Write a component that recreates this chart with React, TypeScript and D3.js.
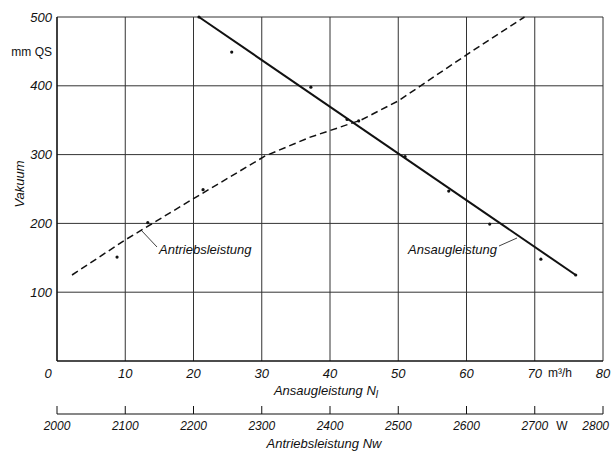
import React from 'react';
import * as d3 from 'd3';

// Ansaugleistung (m3/h) – upper x axis ticks
const flowTicks = [0, 10, 20, 30, 40, 50, 60, 70, 80];
// Antriebsleistung (W) – lower x axis ticks
const powerTicks = [2000, 2100, 2200, 2300, 2400, 2500, 2600, 2700, 2800];
// Vakuum (mm QS)
const vacTicks = [100, 200, 300, 400, 500];

// solid curve: Ansaugleistung
const ansaugX = [20.8, 76];
const ansaugY = [500, 125];

// dashed curve: Antriebsleistung
const antriebX = [2.2, 10, 20, 30.5, 37, 44.5, 50, 60, 68.5];
const antriebY = [125, 176, 236, 298, 325, 350, 378, 445, 500];

// measured points
const dotX = [8.8, 13.3, 21.4, 25.6, 20.8, 37.2, 42.5, 44.2, 51, 57.4, 63.4, 70.9, 76];
const dotY = [151, 201, 249, 449, 500, 398, 351, 349, 297, 247, 199, 148, 125];

const W = 611;
const H = 453;
const left = 57;
const right = 603;
const top = 17;
const bottom = 361;
const axis2Y = 414;

const font = '"Liberation Sans", Arial, sans-serif';

export default function App() {
  const x = d3.scaleLinear().domain([0, 80]).range([left, right]);
  const x2 = d3.scaleLinear().domain([2000, 2800]).range([left, right]);
  const y = d3.scaleLinear().domain([0, 500]).range([bottom, top]);

  const line = d3.line<[number, number]>().x(d => x(d[0])).y(d => y(d[1]));

  const ansaug = ansaugX.map((v, i) => [v, ansaugY[i]] as [number, number]);
  const antrieb = antriebX.map((v, i) => [v, antriebY[i]] as [number, number]);

  const txt = { fontFamily: font, fontStyle: 'italic', fill: '#111' } as const;
  const up = { fontFamily: font, fill: '#111' } as const;

  return (
    <svg width={W} height={H} style={{ position: 'absolute', left: 0, top: 0, background: '#fff' }}>
      {/* grid */}
      <g stroke="#333" strokeWidth={1}>
        {flowTicks.slice(1).map(t => (
          <line key={'v' + t} x1={x(t)} x2={x(t)} y1={top} y2={bottom} />
        ))}
        {vacTicks.map(t => (
          <line key={'h' + t} x1={left} x2={right} y1={y(t)} y2={y(t)} />
        ))}
      </g>
      {/* axes */}
      <line x1={left} x2={left} y1={top} y2={bottom} stroke="#111" strokeWidth={1.6} />
      <line x1={left} x2={right} y1={bottom} y2={bottom} stroke="#111" strokeWidth={1.4} />

      {/* y labels */}
      {vacTicks.map(t => (
        <text key={'yl' + t} x={left - 5} y={y(t)} dy="0.35em" textAnchor="end" fontSize={13} {...txt}>
          {t}
        </text>
      ))}
      <text x={52} y={52} dy="0.35em" textAnchor="end" fontSize={12} {...up}>mm QS</text>
      <text transform="translate(19,184) rotate(-90)" textAnchor="middle" dy="0.35em" fontSize={13} {...txt}>
        Vakuum
      </text>

      {/* upper x labels */}
      {flowTicks.map(t => (
        <text key={'xl' + t} x={t === 0 ? x(t) - 9 : x(t)} y={373} dy="0.35em" textAnchor="middle" fontSize={13} {...txt}>
          {t}
        </text>
      ))}
      <text x={560} y={373} dy="0.35em" textAnchor="middle" fontSize={12} {...up}>m³/h</text>
      <text x={326} y={390} dy="0.35em" textAnchor="middle" fontSize={13} {...txt}>
        Ansaugleistung N<tspan fontSize={10} dy="3">l</tspan>
      </text>

      {/* lower power axis */}
      <line x1={left} x2={right} y1={axis2Y} y2={axis2Y} stroke="#111" strokeWidth={1.2} />
      {powerTicks.map(t => (
        <line key={'pt' + t} x1={x2(t)} x2={x2(t)} y1={axis2Y} y2={axis2Y - 8} stroke="#111" strokeWidth={1} />
      ))}
      {powerTicks.map(t => (
        <text key={'pl' + t} x={t === 2800 ? 609 : x2(t)} y={426} dy="0.35em" textAnchor={t === 2800 ? 'end' : 'middle'} fontSize={12} {...txt}>
          {t}
        </text>
      ))}
      <text x={562} y={426} dy="0.35em" textAnchor="middle" fontSize={12} {...up}>W</text>
      <text x={324} y={443} dy="0.35em" textAnchor="middle" fontSize={13} {...txt}>
        Antriebsleistung Nw
      </text>

      {/* curves */}
      <path d={line(ansaug) || ''} fill="none" stroke="#111" strokeWidth={2} />
      <path d={line(antrieb) || ''} fill="none" stroke="#111" strokeWidth={1.5} strokeDasharray="7,4" />

      {/* points */}
      {dotX.map((v, i) => (
        <circle key={'d' + i} cx={x(v)} cy={y(dotY[i])} r={1.6} fill="#111" />
      ))}

      {/* annotations */}
      <line x1={141} y1={230} x2={157} y2={247} stroke="#111" strokeWidth={0.8} />
      <text x={159} y={249} dy="0.35em" fontSize={13} {...txt}>Antriebsleistung</text>
      <line x1={499} y1={246} x2={517} y2={238} stroke="#111" strokeWidth={0.8} />
      <text x={497} y={249} dy="0.35em" textAnchor="end" fontSize={13} {...txt}>Ansaugleistung</text>
    </svg>
  );
}
